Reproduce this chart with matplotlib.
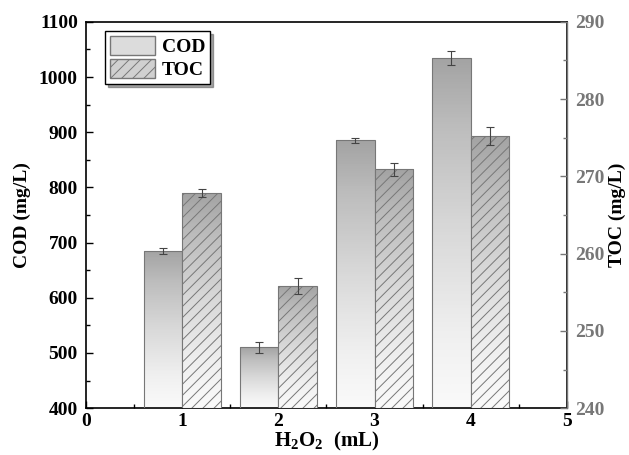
import numpy as np
import matplotlib
matplotlib.use("Agg")
from matplotlib import pyplot as plt
from matplotlib.patches import Patch

plt.rcParams['font.family'] = 'Liberation Serif'
plt.rcParams['font.weight'] = 'bold'
plt.rcParams['mathtext.fontset'] = 'custom'
plt.rcParams['mathtext.rm'] = 'Liberation Serif:bold'
plt.rcParams['mathtext.bf'] = 'Liberation Serif:bold'
plt.rcParams['hatch.linewidth'] = 0.7

# data
h2o2 = [1, 2, 3, 4]
cod = [685, 510, 885, 1035]
cod_err = [5, 10, 5, 13]
toc = [267.8, 255.8, 270.9, 275.2]
toc_err = [0.5, 1.0, 0.8, 1.2]

width = 0.4
x = np.array(h2o2)

fig = plt.figure(figsize=(6.29, 4.55), dpi=100)
ax = fig.add_axes([0.137, 0.103, 0.764, 0.849])
ax2 = ax.twinx()

grad = np.linspace(0, 1, 256).reshape(-1, 1)   # 0 at bottom, 1 at top


def gradient_bars(axis, xs, vals, base, hatch=None):
    bars = axis.bar(xs, np.array(vals) - base, width, bottom=base,
                    facecolor='none', edgecolor='#777777', linewidth=0.8,
                    hatch=hatch, zorder=3)
    for b in bars:
        x0, y0 = b.get_x(), b.get_y()
        im = axis.imshow(grad, cmap='Greys', vmin=-0.1, vmax=2.3,
                         extent=[x0, x0 + b.get_width(), y0, y0 + b.get_height()],
                         origin='lower', aspect='auto', zorder=2)
        im.set_clip_path(b)
    return bars


gradient_bars(ax, x - width / 2, cod, 400)
ax.errorbar(x - width / 2, cod, yerr=cod_err, fmt='none', ecolor='#444444',
            elinewidth=0.8, capsize=3, capthick=0.8, zorder=4)

gradient_bars(ax2, x + width / 2, toc, 240, hatch='///')
ax2.errorbar(x + width / 2, toc, yerr=toc_err, fmt='none', ecolor='#444444',
             elinewidth=0.8, capsize=3, capthick=0.8, zorder=4)

ax.set_xlim(0, 5)
ax.set_ylim(400, 1100)
ax2.set_ylim(240, 290)
ax.set_xticks(range(6))
ax.set_xticks(np.arange(0.5, 5, 1), minor=True)
ax.set_yticks(range(400, 1101, 100))
ax.set_yticks(range(450, 1100, 100), minor=True)
ax2.set_yticks(range(240, 291, 10))
ax2.set_yticks(range(245, 290, 10), minor=True)

ax.tick_params(which='both', direction='in', labelsize=14, width=1)
ax.tick_params(which='major', length=5)
ax.tick_params(which='minor', length=3)
ax.tick_params(axis='y', which='both', right=False, pad=6)
ax2.tick_params(which='both', direction='in', labelsize=14, colors='#777777', width=1, pad=6)
ax2.tick_params(which='major', length=5)
ax2.tick_params(which='minor', length=3)
for s in ax.spines.values():
    s.set_linewidth(1.2)
ax2.spines['right'].set_color('#777777')
ax2.spines['right'].set_linewidth(1.0)
for s in ['left', 'top', 'bottom']:
    ax2.spines[s].set_visible(False)

ax.set_xlabel(r'H$_2$O$_2$  (mL)', fontsize=15, fontweight='bold', labelpad=0)
ax.set_ylabel('COD (mg/L)', fontsize=14, fontweight='bold', labelpad=6)
ax2.set_ylabel('TOC (mg/L)', fontsize=14, fontweight='bold', color='black', labelpad=3)

handles = [Patch(facecolor='#dcdcdc', edgecolor='#777777', label='COD'),
           Patch(facecolor='#d0d0d0', edgecolor='#777777', hatch='///', label='TOC')]
leg = ax2.legend(handles=handles, loc='upper left', bbox_to_anchor=(0.04, 0.975),
                 fancybox=False, shadow=True, edgecolor='black', framealpha=1,
                 prop={'size': 14, 'weight': 'bold'}, handlelength=2.3, handleheight=1.1,
                 borderpad=0.25, labelspacing=0.15, handletextpad=0.35, borderaxespad=0)
leg.get_frame().set_linewidth(1.0)

fig.savefig('out.png', dpi=100)
